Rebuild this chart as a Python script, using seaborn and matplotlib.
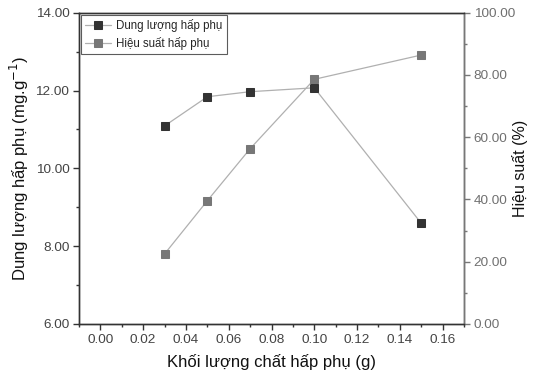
import matplotlib
matplotlib.use("Agg")
import matplotlib.pyplot as plt
import seaborn as sns
import pandas as pd
from matplotlib.ticker import MultipleLocator, FormatStrFormatter

sns.set_style("ticks")
plt.rcParams['font.family'] = ['Liberation Sans', 'DejaVu Sans']

mass = [0.03, 0.05, 0.07, 0.10, 0.15]
capacity = [11.09, 11.84, 11.97, 12.07, 8.59]
efficiency = [22.5, 39.6, 56.3, 78.6, 86.4]

df = pd.DataFrame({"mass": mass, "capacity": capacity, "efficiency": efficiency})

fig = plt.figure(figsize=(5.33, 3.79), dpi=100)
ax = fig.add_axes([79/533, 1-324/379, (464-79)/533, (324-12.7)/379])
ax2 = ax.twinx()

sns.lineplot(data=df, x="mass", y="capacity", ax=ax, color="#b0b0b0", lw=0.9,
             marker="s", markersize=6, markerfacecolor="#333333", markeredgecolor="#333333",
             label="Dung lượng hấp phụ", legend=False)
sns.lineplot(data=df, x="mass", y="efficiency", ax=ax2, color="#b0b0b0", lw=0.9,
             marker="s", markersize=6, markerfacecolor="#777777", markeredgecolor="#777777",
             label="Hiệu suất hấp phụ", legend=False)

ax.set_xlim(-0.01, 0.17)
ax.set_ylim(6, 14)
ax2.set_ylim(0, 100)

ax.xaxis.set_major_locator(MultipleLocator(0.02))
ax.xaxis.set_minor_locator(MultipleLocator(0.01))
ax.xaxis.set_major_formatter(FormatStrFormatter('%.2f'))
ax.yaxis.set_major_locator(MultipleLocator(2))
ax.yaxis.set_minor_locator(MultipleLocator(1))
ax.yaxis.set_major_formatter(FormatStrFormatter('%.2f'))
ax2.yaxis.set_major_locator(MultipleLocator(20))
ax2.yaxis.set_minor_locator(MultipleLocator(10))
ax2.yaxis.set_major_formatter(FormatStrFormatter('%.2f'))

for a in (ax, ax2):
    for s in a.spines.values():
        s.set_linewidth(1.0)
        s.set_color("#333333")
ax2.spines['right'].set_color("#777777")

ax.tick_params(axis='both', which='major', direction='out', length=4, width=1,
               labelsize=9.7, colors="#333333", labelcolor="#444444", pad=3)
ax.tick_params(axis='both', which='minor', direction='out', length=2.5, width=1, colors="#333333")
ax2.tick_params(axis='y', which='major', direction='out', length=4, width=1,
                labelsize=9.7, colors="#777777", labelcolor="#707070", pad=3)
ax2.tick_params(axis='y', which='minor', direction='out', length=2.5, width=1, colors="#777777")

ax.set_xlabel("Khối lượng chất hấp phụ (g)", fontsize=12, color="#111111", labelpad=6)
ax.set_ylabel("Dung lượng hấp phụ (mg.g$^{-1}$)", fontsize=12, color="#111111", labelpad=3)
ax2.set_ylabel("Hiệu suất (%)", fontsize=11.5, color="#111111", labelpad=-2)

h1, l1 = ax.get_legend_handles_labels()
h2, l2 = ax2.get_legend_handles_labels()
leg = ax.legend(h1 + h2, l1 + l2, loc='upper left', fontsize=8.3, frameon=True,
                fancybox=False, edgecolor="#333333", borderpad=0.35, labelspacing=0.45,
                handlelength=2.2, handletextpad=0.5, borderaxespad=0.2)
leg.get_frame().set_linewidth(0.8)

fig.savefig("out.png", dpi=100)
